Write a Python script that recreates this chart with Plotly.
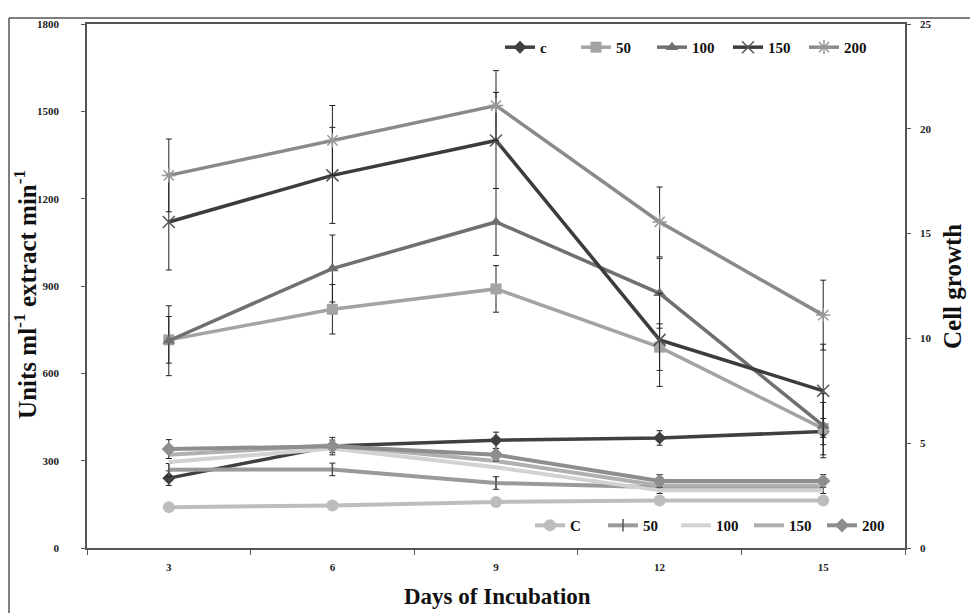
import plotly.graph_objects as go

days = [3, 6, 9, 12, 15]
x_ticklabels = ["3", "6", "9", "12", "15"]

# Enzyme activity (left axis, Units ml-1 extract min-1)
act_c = [240, 350, 370, 378, 400]
act_c_err = [25, 30, 28, 25, 45]
act_50 = [715, 820, 890, 690, 410]
act_50_err = [80, 85, 80, 80, 90]
act_100 = [712, 960, 1120, 875, 420]
act_100_err = [120, 115, 115, 120, 110]
act_150 = [1120, 1280, 1400, 715, 540]
act_150_err = [165, 165, 165, 160, 160]
act_200 = [1280, 1400, 1520, 1120, 800]
act_200_err = [125, 120, 120, 120, 120]

# Cell growth (right axis)
gr_C = [1.95, 2.03, 2.2, 2.27, 2.27]
gr_50 = [3.73, 3.75, 3.1, 2.9, 2.9]
gr_50_err = [0.3, 0.3, 0.3, 0.3, 0.3]
gr_100 = [4.1, 4.75, 3.85, 2.75, 2.75]
gr_150 = [4.45, 4.9, 4.15, 2.98, 2.98]
gr_200 = [4.72, 4.85, 4.45, 3.2, 3.2]
gr_200_err = [0.45, 0.3, 0.3, 0.3, 0.3]

left_ticks = [0, 300, 600, 900, 1200, 1500, 1800]
right_ticks = [0, 5, 10, 15, 20, 25]

FONT = "Liberation Serif"

fig = go.Figure()


def err(vals):
    return dict(type="data", array=vals, color="#222222", thickness=1, width=3, visible=True)


# right-axis (cell growth) series
fig.add_trace(go.Scatter(x=days, y=gr_C, name="C", yaxis="y2", legend="legend2",
                         mode="lines+markers", line=dict(color="#bdbdbd", width=4),
                         marker=dict(symbol="circle", size=12, color="#bdbdbd")))
fig.add_trace(go.Scatter(x=days, y=gr_50, name="50", yaxis="y2", legend="legend2",
                         mode="lines+markers", line=dict(color="#9a9a9a", width=4),
                         marker=dict(symbol="line-ns-open", size=9, color="#555555", line=dict(width=1.5)),
                         error_y=err(gr_50_err)))
fig.add_trace(go.Scatter(x=days, y=gr_100, name="100", yaxis="y2", legend="legend2",
                         mode="lines", line=dict(color="#d2d2d2", width=4)))
fig.add_trace(go.Scatter(x=days, y=gr_150, name="150", yaxis="y2", legend="legend2",
                         mode="lines", line=dict(color="#b0b0b0", width=4)))
fig.add_trace(go.Scatter(x=days, y=gr_200, name="200", yaxis="y2", legend="legend2",
                         mode="lines+markers", line=dict(color="#8e8e8e", width=4),
                         marker=dict(symbol="diamond", size=11, color="#8e8e8e"),
                         error_y=err(gr_200_err)))

# left-axis (enzyme activity) series
fig.add_trace(go.Scatter(x=days, y=act_c, name="c", mode="lines+markers",
                         line=dict(color="#404040", width=3.5),
                         marker=dict(symbol="diamond", size=10, color="#404040"),
                         error_y=err(act_c_err)))
fig.add_trace(go.Scatter(x=days, y=act_50, name="50", mode="lines+markers",
                         line=dict(color="#a3a3a3", width=3.5),
                         marker=dict(symbol="square", size=11, color="#a3a3a3"),
                         error_y=err(act_50_err)))
fig.add_trace(go.Scatter(x=days, y=act_100, name="100", mode="lines+markers",
                         line=dict(color="#707070", width=3.5),
                         marker=dict(symbol="triangle-up", size=11, color="#707070"),
                         error_y=err(act_100_err)))
fig.add_trace(go.Scatter(x=days, y=act_150, name="150", mode="lines+markers",
                         line=dict(color="#3c3c3c", width=3.5),
                         marker=dict(symbol="x-thin-open", size=12, color="#555555", line=dict(width=1.5)),
                         error_y=err(act_150_err)))
fig.add_trace(go.Scatter(x=days, y=act_200, name="200", mode="lines+markers",
                         line=dict(color="#8a8a8a", width=3.5),
                         marker=dict(symbol="asterisk-open", size=12, color="#999999", line=dict(width=1.5)),
                         error_y=err(act_200_err)))

# page coords of the plot area: left 87, right 905, top 18, bottom 548 (page has 8px body margin)
def px_x(p):
    return (p - 87) / 818.0


def px_y(p):
    return (548 - p) / 530.0


frame_col = "#555555"
fig.add_shape(type="line", xref="paper", yref="paper", x0=px_x(9), x1=px_x(9), y0=px_y(12), y1=px_y(620),
              line=dict(color=frame_col, width=1.5))
fig.add_shape(type="line", xref="paper", yref="paper", x0=px_x(9), x1=px_x(980), y0=px_y(12), y1=px_y(12),
              line=dict(color=frame_col, width=1.5))

tickfont = dict(family=FONT, size=11, color="#222222", weight="bold")
legfont = dict(family=FONT, size=15, color="#111111", weight="bold")

fig.add_annotation(text="<b>Units ml<sup>-1</sup> extract min<sup>-1</sup></b>", textangle=-90,
                   xref="paper", yref="paper", x=px_x(25), y=px_y(292), showarrow=False,
                   xanchor="center", yanchor="middle", font=dict(family=FONT, size=25, color="#111111"))
fig.add_annotation(text="<b>Cell growth</b>", textangle=-90,
                   xref="paper", yref="paper", x=px_x(952), y=px_y(283), showarrow=False,
                   xanchor="center", yanchor="middle", font=dict(family=FONT, size=25, color="#111111"))
fig.add_annotation(text="<b>Days of Incubation</b>",
                   xref="paper", yref="paper", x=px_x(497), y=px_y(597), showarrow=False,
                   xanchor="center", yanchor="middle", font=dict(family=FONT, size=23, color="#111111"))

fig.update_layout(
    width=970, height=605,
    margin=dict(l=79, r=73, t=10, b=65),
    paper_bgcolor="white", plot_bgcolor="white",
    font=dict(family=FONT, color="#111111"),
    xaxis=dict(range=[1.5, 16.5], tickmode="array", tickvals=days, ticktext=x_ticklabels,
               ticks="", tickfont=tickfont, showgrid=False, zeroline=False,
               showline=True, linecolor="#555555", linewidth=1.5, mirror=True,
               minor=dict(tick0=1.5, dtick=3, ticks="outside", ticklen=5, tickcolor="#555555", showgrid=False),
               ticklabelstandoff=8),
    yaxis=dict(range=[0, 1800], tickmode="array", tickvals=left_ticks,
               ticktext=[str(v) for v in left_ticks],
               ticks="outside", ticklen=4, tickcolor="#555555", tickfont=tickfont,
               ticklabelstandoff=20,
               showgrid=False, zeroline=False, showline=True, linecolor="#555555", linewidth=1.5),
    yaxis2=dict(range=[0, 25], tickmode="array", tickvals=right_ticks,
                ticktext=[str(v) for v in right_ticks],
                overlaying="y", side="right", anchor="x",
                ticks="outside", ticklen=4, tickcolor="#555555", tickfont=tickfont,
                ticklabelstandoff=7,
                showgrid=False, zeroline=False, showline=True, linecolor="#555555", linewidth=1.5),
    legend=dict(orientation="h", x=px_x(500), xanchor="left", y=px_y(25), yanchor="top",
                bgcolor="rgba(0,0,0,0)", font=legfont,
                traceorder="normal", itemwidth=30, entrywidth=31, entrywidthmode="pixels"),
    legend2=dict(orientation="h", x=px_x(530), xanchor="left", y=px_y(542), yanchor="bottom",
                 bgcolor="rgba(0,0,0,0)", font=legfont,
                 traceorder="normal", itemwidth=30, entrywidth=28, entrywidthmode="pixels"),
    showlegend=True,
)

fig.write_html("out.html")
